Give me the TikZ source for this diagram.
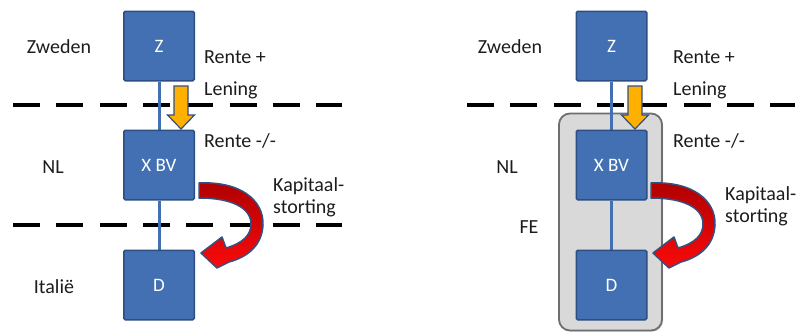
\documentclass[tikz,border=0pt]{standalone}
\usepackage{fontspec}
\setmainfont{Carlito}
\usetikzlibrary{shadows}

\definecolor{boxblue}{RGB}{66,112,178}
\definecolor{boxedge}{RGB}{44,78,130}
\definecolor{loanfill}{RGB}{255,176,0}
\definecolor{arrowedge}{RGB}{52,80,128}
\definecolor{redlight}{RGB}{250,10,10}
\definecolor{reddark}{RGB}{175,0,0}
\definecolor{fefill}{RGB}{217,217,217}
\definecolor{feedge}{RGB}{110,110,110}
\definecolor{txt}{RGB}{28,28,28}

\pgfdeclarelayer{back}
\pgfdeclarelayer{mid}
\pgfsetlayers{back,mid,main}

\begin{document}
\begin{tikzpicture}[x=1pt,y=-1pt,
  entity/.style={draw=boxedge, line width=1.5pt, fill=boxblue, rounded corners=1.5pt,
    minimum width=70.5pt, minimum height=69.5pt, inner sep=0pt, text=white,
    font=\fontsize{19}{22}\selectfont},
  lbl/.style={text=txt, inner sep=0pt, font=\fontsize{20}{24}\selectfont},
  link/.style={draw=boxblue, line width=3pt},
  border/.style={draw=black, line width=3.5pt, dash pattern=on 27pt off 16.3pt},
  fegroup/.style={draw=feedge, line width=1.8pt, fill=fefill, rounded corners=11pt,
    minimum width=103pt, minimum height=217pt, inner sep=0pt,
    drop shadow={shadow xshift=1.2pt, shadow yshift=-1.2pt, opacity=0.35}},
  loanarrow/.pic={
    \draw[fill=loanfill, draw=arrowedge, line width=1.2pt, line join=miter]
      (-7,86) -- (7,86) -- (7,115) -- (13.5,115) -- (0,129) -- (-13.5,115) -- (-7,115) -- cycle;},
  capitalarrow/.pic={
    \draw[top color=reddark, bottom color=redlight, draw=arrowedge, line width=1.5pt, line join=round]
      (199,183) .. controls (240,181) and (264,200) .. (263,225)
      .. controls (262,245) and (248,257) .. (229,262)
      -- (217,268) -- (201,253) -- (222,237) -- (226,248)
      .. controls (243,243) and (251,235) .. (251,224)
      .. controls (251,208) and (232,198) .. (199,198) -- cycle;}
]
\useasboundingbox (0,0) rectangle (801,333);

% ---------- left structure ----------
\node[entity] (zL) at (159,46)  {Z};
\node[entity] (xL) at (159,165) {X BV};
\node[entity] (dL) at (159,285) {D};

\begin{pgfonlayer}{back}
  \draw[border] (13,105) -- (342,105);
  \draw[border] (13,225) -- (342,225);
\end{pgfonlayer}
\begin{pgfonlayer}{mid}
  \draw[link] (zL.south) -- (xL.north);
  \draw[link] (xL.south) -- (dL.north);
\end{pgfonlayer}

\pic at (181,0) {loanarrow};
\pic at (0,0) {capitalarrow};

\node[lbl, anchor=base] (zwL) at (59,53)  {Zweden};
\node[lbl, anchor=base] (nlL) at (53,173) {NL};
\node[lbl, anchor=base] (itL) at (54,293) {Italië};
\node[lbl, anchor=base west] (r1L) at (204,63)  {Rente +};
\node[lbl, anchor=base west] (lnL) at (204,95)  {Lening};
\node[lbl, anchor=base west] (r2L) at (204,147) {Rente -/-};
\node[lbl, anchor=base west] (kpL) at (273,191) {Kapitaal-};
\node[lbl, anchor=base west] (stL) at (273,213) {storting};

% ---------- right structure (fiscal unity) ----------
\node[entity] (zR) at (611.5,46)  {Z};
\node[entity] (xR) at (611.5,165) {X BV};
\node[entity] (dR) at (611.5,285) {D};

\begin{pgfonlayer}{back}
  \node[fegroup] (feR) at (610.5,222) {};
  \draw[border] (467,105) -- (795,105);
\end{pgfonlayer}
\begin{pgfonlayer}{mid}
  \draw[link] (zR.south) -- (xR.north);
  \draw[link] (xR.south) -- (dR.north);
\end{pgfonlayer}

\pic at (635,0) {loanarrow};
\pic at (452,0) {capitalarrow};

\node[lbl, anchor=base] (zwR) at (510,53)  {Zweden};
\node[lbl, anchor=base] (nlR) at (507,173) {NL};
\node[lbl, anchor=base] (feL) at (529,233) {FE};
\node[lbl, anchor=base west] (r1R) at (673,63)  {Rente +};
\node[lbl, anchor=base west] (lnR) at (673,95)  {Lening};
\node[lbl, anchor=base west] (r2R) at (673,147) {Rente -/-};
\node[lbl, anchor=base west] (kpR) at (725,200) {Kapitaal-};
\node[lbl, anchor=base west] (stR) at (725,222) {storting};
\end{tikzpicture}
\end{document}
